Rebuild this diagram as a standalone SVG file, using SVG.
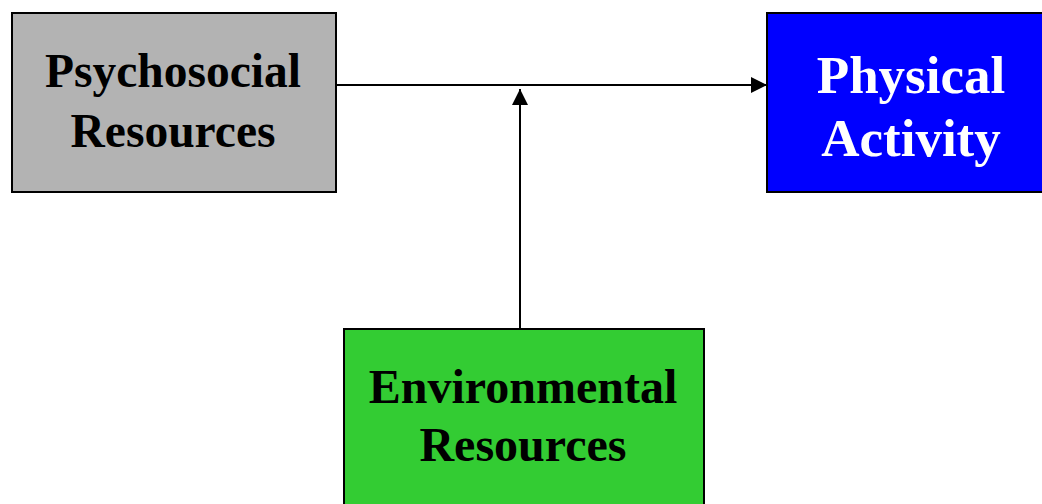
<svg xmlns="http://www.w3.org/2000/svg" width="1042" height="504" viewBox="0 0 1042 504">
<defs>
<style>
.box{stroke:#000;stroke-width:2}
.t{font-family:"Liberation Serif","Times New Roman",serif;font-weight:bold;text-anchor:middle}
.conn{stroke:#000;stroke-width:2;fill:none}
</style>
<marker id="ah" viewBox="0 0 16 16" refX="16" refY="8" markerWidth="16" markerHeight="16" markerUnits="userSpaceOnUse" orient="auto">
<path d="M0,0 L16,8 L0,16 Z" fill="#000"/>
</marker>
</defs>
<rect width="1042" height="504" fill="#fff"/>
<g id="connectors">
<line class="conn" x1="336" y1="85" x2="767" y2="85" marker-end="url(#ah)"/>
<line class="conn" x1="520" y1="329" x2="520" y2="89" marker-end="url(#ah)"/>
</g>
<g id="psychosocial">
<rect class="box" x="12" y="13" width="324" height="179" fill="#b3b3b3"/>
<text class="t" x="173" y="87" font-size="47.5" fill="#000">Psychosocial</text>
<text class="t" x="173" y="147" font-size="47.5" fill="#000">Resources</text>
</g>
<g id="physical">
<rect class="box" x="767" y="13" width="290" height="179" fill="#0000ff"/>
<text class="t" x="911" y="93" font-size="53" fill="#fff">Physical</text>
<text class="t" x="911" y="156" font-size="53" fill="#fff">Activity</text>
</g>
<g id="environmental">
<rect class="box" x="344" y="329" width="360" height="190" fill="#33cc33"/>
<text class="t" x="523" y="403" font-size="48" fill="#000">Environmental</text>
<text class="t" x="523" y="461" font-size="48" fill="#000">Resources</text>
</g>
</svg>
